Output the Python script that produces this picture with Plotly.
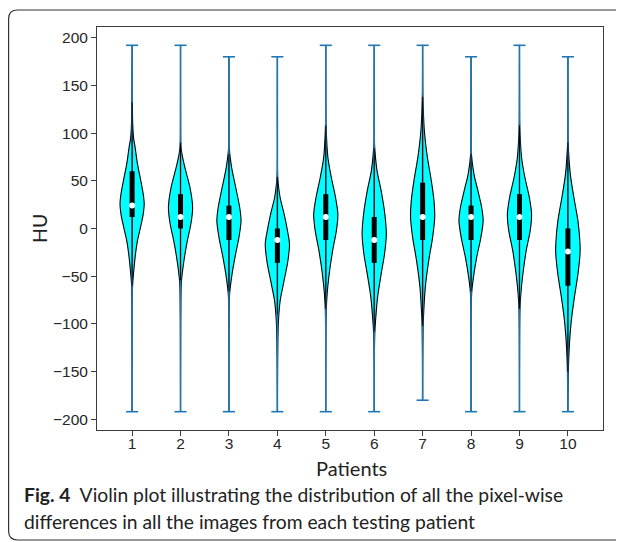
import plotly.graph_objects as go

# ---------------- data ----------------
patients = [1, 2, 3, 4, 5, 6, 7, 8, 9, 10]
hu_min = [-192, -192, -192, -192, -192, -192, -180, -192, -192, -192]
hu_max = [192, 192, 180, 180, 192, 192, 192, 180, 192, 180]
q1 = [12, 0, -12, -36, -12, -36, -12, -12, -12, -60]
medians = [24, 12, 12, -12, 12, -12, 12, 12, 12, -24]
q3 = [60, 36, 24, 0, 36, 12, 48, 24, 36, 0]

# estimated density profile of each violin: HU levels and relative half-widths (max = 1)
violin_hu = [
    [192, 133, 110, 95, 85, 68, 50, 36, 26, 15, 1, -13, -27, -44, -60, -100, -192],
    [192, 100, 88, 78, 64, 43, 22, 5, -13, -34, -55, -75, -120, -192],
    [180, 95, 85, 64, 43, 22, 8, -9, -30, -51, -70, -110, -192],
    [180, 60, 50, 33, 15, -2, -16, -34, -55, -76, -97, -120, -150, -192],
    [192, 125, 110, 75, 54, 33, 15, -2, -23, -48, -69, -86, -120, -192],
    [192, 100, 90, 61, 40, 15, -6, -27, -48, -72, -97, -110, -140, -192],
    [192, 150, 140, 103, 75, 50, 29, 12, -9, -34, -62, -90, -104, -140, -180],
    [180, 95, 80, 57, 40, 22, 8, -9, -30, -51, -68, -100, -192],
    [192, 125, 110, 75, 54, 33, 15, -2, -23, -48, -69, -86, -120, -192],
    [180, 100, 90, 57, 33, 8, -16, -27, -48, -72, -97, -125, -150, -192],
]
violin_width = [
    [0, 0.02, 0.05, 0.12, 0.25, 0.44, 0.72, 0.92, 1.0, 0.92, 0.69, 0.44, 0.28, 0.14, 0.04, 0.01, 0],
    [0, 0.01, 0.03, 0.12, 0.36, 0.78, 1.0, 0.86, 0.56, 0.28, 0.08, 0.03, 0.01, 0],
    [0, 0.01, 0.02, 0.22, 0.56, 0.89, 1.0, 0.83, 0.5, 0.22, 0.05, 0.01, 0],
    [0, 0.01, 0.05, 0.22, 0.56, 0.83, 1.0, 0.87, 0.55, 0.23, 0.09, 0.04, 0.015, 0],
    [0, 0.01, 0.02, 0.17, 0.45, 0.8, 1.0, 0.88, 0.57, 0.28, 0.11, 0.04, 0.01, 0],
    [0, 0.01, 0.02, 0.23, 0.57, 0.88, 1.0, 0.85, 0.57, 0.28, 0.11, 0.05, 0.01, 0],
    [0, 0.01, 0.02, 0.14, 0.39, 0.72, 0.94, 1.0, 0.83, 0.5, 0.22, 0.08, 0.04, 0.01, 0],
    [0, 0.01, 0.02, 0.24, 0.56, 0.88, 1.0, 0.82, 0.47, 0.2, 0.05, 0.01, 0],
    [0, 0.01, 0.02, 0.17, 0.44, 0.81, 1.0, 0.89, 0.56, 0.28, 0.11, 0.04, 0.01, 0],
    [0, 0.01, 0.02, 0.2, 0.49, 0.83, 1.0, 1.0, 0.83, 0.54, 0.28, 0.11, 0.04, 0],
]

y_ticks = [-200, -150, -100, -50, 0, 50, 100, 150, 200]
y_tick_text = ["\u2212200", "\u2212150", "\u2212100", "\u221250", "0", "50", "100", "150", "200"]
x_label = "Patients"
y_label = "HU"
caption_1 = "<b>Fig. 4</b>  Violin plot illustrating the distribution of all the pixel-wise"
caption_2 = "differences in all the images from each testing patient"

# ---------------- layout constants ----------------
OFF = 8                      # default page margin of the browser body
W, H = 624 - OFF, 542 - OFF  # figure size so that it fits in the window
# plot area in window pixels (from the reference): x 97..603, y 27..430
PX0, PX1, PY0, PY1 = 97, 603, 27, 430
L, T = PX0 - OFF, PY0 - OFF
R, B = W - (PX1 - OFF), H - (PY1 - OFF)
HALF = 0.25          # max half-width of a violin (x units)
CAP = 0.125          # half-length of extrema caps
BLUE = "#1f77b4"
CYAN = "#00ffff"
CAP_FONT = "Lato"
TICK_FONT = "Liberation Sans"

pw, ph = W - L - R, H - T - B


def px2x(px):
    """window pixel x -> paper x"""
    return (px - OFF - L) / pw


def px2y(py):
    """window pixel y -> paper y"""
    return (H - B - (py - OFF)) / ph


fig = go.Figure()

# violin bodies
for i, p in enumerate(patients):
    hu = violin_hu[i]
    wd = violin_width[i]
    xs = [p + w * HALF for w in wd] + [p - w * HALF for w in wd[::-1]]
    ys = list(hu) + list(hu[::-1])
    fig.add_trace(go.Scatter(
        x=xs, y=ys, mode="lines", fill="toself", fillcolor=CYAN,
        line=dict(color="black", width=1.1, shape="spline", smoothing=0.8),
        hoverinfo="skip", showlegend=False))

# extrema lines and caps (blue)
bx, by = [], []
for p, lo, hi in zip(patients, hu_min, hu_max):
    bx += [p, p, None, p - CAP, p + CAP, None, p - CAP, p + CAP, None]
    by += [lo, hi, None, lo, lo, None, hi, hi, None]
fig.add_trace(go.Scatter(x=bx, y=by, mode="lines", line=dict(color=BLUE, width=1.6),
                         hoverinfo="skip", showlegend=False))

# whiskers (1.5 IQR clipped to data range), thin black
wx, wy = [], []
for p, a, b, lo, hi in zip(patients, q1, q3, hu_min, hu_max):
    iqr = b - a
    up = min(max(b + 1.5 * iqr, b), hi)
    dn = max(min(a - 1.5 * iqr, a), lo)
    wx += [p, p, None]
    wy += [dn, up, None]
fig.add_trace(go.Scatter(x=wx, y=wy, mode="lines", line=dict(color="black", width=1),
                         hoverinfo="skip", showlegend=False))

# quartile boxes
qx, qy = [], []
for p, a, b in zip(patients, q1, q3):
    qx += [p, p, None]
    qy += [a, b, None]
fig.add_trace(go.Scatter(x=qx, y=qy, mode="lines", line=dict(color="black", width=5),
                         hoverinfo="skip", showlegend=False))

# medians
fig.add_trace(go.Scatter(x=patients, y=medians, mode="markers",
                         marker=dict(color="white", size=6, line=dict(width=0)),
                         hoverinfo="skip", showlegend=False))

axis_common = dict(showline=True, mirror=True, linecolor="#3c3c3c", linewidth=1,
                   ticks="outside", ticklen=5, tickcolor="#3c3c3c", showgrid=False,
                   zeroline=False, tickfont=dict(family=TICK_FONT, size=15.5, color="#262626"))

fig.update_layout(
    width=W, height=H,
    margin=dict(l=L, r=R, t=T, b=B, pad=0),
    paper_bgcolor="white", plot_bgcolor="white",
    xaxis=dict(range=[0.275, 10.725], tickvals=patients, ticktext=[str(p) for p in patients],
               ticklabelstandoff=-6, **axis_common),
    yaxis=dict(range=[-211.2, 211.2], tickvals=y_ticks, ticktext=y_tick_text, **axis_common),
    showlegend=False,
)

# axis titles
fig.add_annotation(xref="paper", yref="paper", x=px2x(39), y=px2y(229), text=y_label,
                   textangle=-90, showarrow=False, xanchor="center", yanchor="middle",
                   font=dict(family=CAP_FONT, size=19.5, color="#222222"))
fig.add_annotation(xref="paper", yref="paper", x=px2x(351), y=px2y(468), text=x_label,
                   showarrow=False, xanchor="center", yanchor="middle",
                   font=dict(family=CAP_FONT, size=20, color="#222222"))

# caption
fig.add_annotation(xref="paper", yref="paper", x=px2x(22), y=px2y(494), text=caption_1,
                   showarrow=False, xanchor="left", yanchor="middle",
                   font=dict(family=CAP_FONT, size=19.3, color="#222222"))
fig.add_annotation(xref="paper", yref="paper", x=px2x(22), y=px2y(521), text=caption_2,
                   showarrow=False, xanchor="left", yanchor="middle",
                   font=dict(family=CAP_FONT, size=19.3, color="#222222"))

# rounded frame around the whole figure (window pixels)
x0, x1, y0, y1, r = OFF + 0.6, 660, 10, 540, 9
path = (f"M {px2x(x0 + r)},{px2y(y0)} L {px2x(x1 - r)},{px2y(y0)} "
        f"Q {px2x(x1)},{px2y(y0)} {px2x(x1)},{px2y(y0 + r)} "
        f"L {px2x(x1)},{px2y(y1 - r)} Q {px2x(x1)},{px2y(y1)} {px2x(x1 - r)},{px2y(y1)} "
        f"L {px2x(x0 + r)},{px2y(y1)} Q {px2x(x0)},{px2y(y1)} {px2x(x0)},{px2y(y1 - r)} "
        f"L {px2x(x0)},{px2y(y0 + r)} Q {px2x(x0)},{px2y(y0)} {px2x(x0 + r)},{px2y(y0)} Z")
fig.add_shape(type="path", xref="paper", yref="paper", path=path,
              line=dict(color="#333333", width=1.2), layer="above")

fig.write_html("out.html")
